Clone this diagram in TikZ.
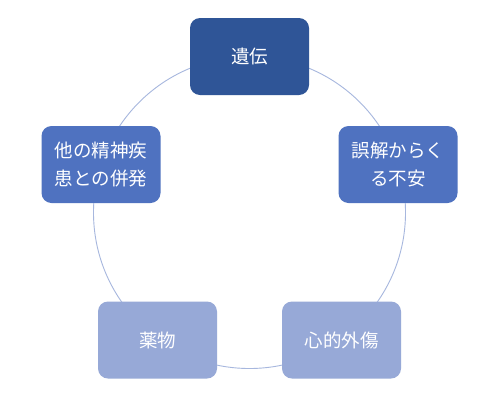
\documentclass[tikz,border=0pt]{standalone}
\usepackage{fontspec}
\newfontfamily\jp{Noto Sans CJK JP}
\definecolor{cA}{HTML}{2F5597}
\definecolor{cB}{HTML}{4F72C0}
\definecolor{cC}{HTML}{97A9D7}
\definecolor{ring}{HTML}{A7B7DE}
\tikzset{
  stepbox/.style={rectangle, rounded corners=10pt, minimum width=119pt, minimum height=77pt,
    text=white, align=center, inner sep=0pt, font=\jp\fontsize{18.5}{28}\selectfont, draw=none},
}
\begin{document}
\begin{tikzpicture}[x=1pt,y=-1pt]
\useasboundingbox (0,0) rectangle (500,402);
\fill[white] (0,0) rectangle (500,402);
\coordinate (c) at (249.5,212.5);
\draw[ring, line width=0.9pt] (c) circle[radius=156pt];
\node[stepbox, fill=cA] (n1) at (249.5,56.5) {遺伝};
\node[stepbox, fill=cB] (n2) at (398,164.5) {誤解からく\\る不安};
\node[stepbox, fill=cC] (n3) at (341.5,340) {心的外傷};
\node[stepbox, fill=cC] (n4) at (157.5,340) {薬物};
\node[stepbox, fill=cB] (n5) at (101,164.5) {他の精神疾\\患との併発};
\end{tikzpicture}
\end{document}
